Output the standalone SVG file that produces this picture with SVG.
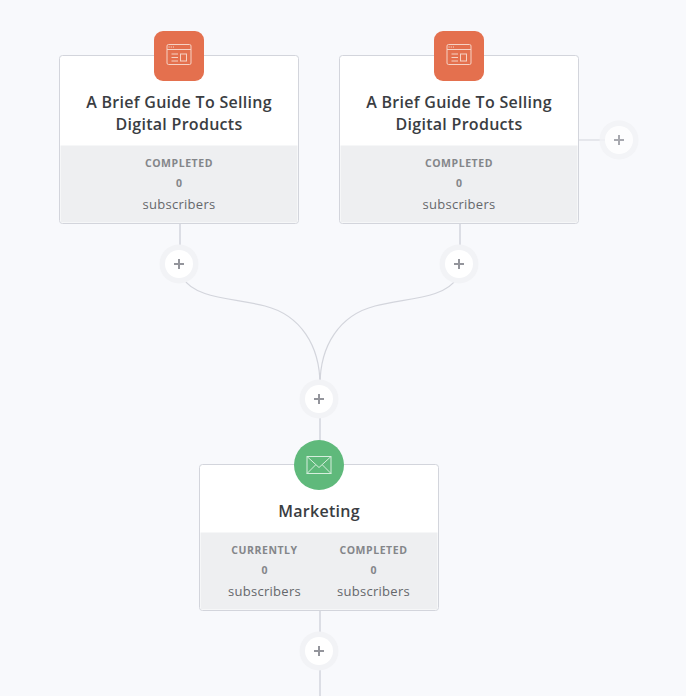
<svg xmlns="http://www.w3.org/2000/svg" width="686" height="696" viewBox="0 0 686 696">
<style>
text{font-family:"Open Sans","Noto Sans",sans-serif;text-anchor:middle}
.card{fill:#fff;stroke:#d3d5dc;stroke-width:1}
.foot{fill:#eeeff1}
.title{font-size:16px;font-weight:600;fill:#3a3d42;letter-spacing:.29px}
.lab{font-size:10.5px;font-weight:700;fill:#84868a;letter-spacing:.55px}
.num{font-size:10.5px;font-weight:700;fill:#84868a}
.sub{font-size:13px;fill:#65676b;letter-spacing:.28px}
.ring{fill:#f2f3f6}
.hole{fill:#fff}
.plus{stroke:#94959c;stroke-width:2;fill:none}
.wire{stroke:#dcdee5;stroke-width:2;fill:none}
.thin{stroke:#d3d5dc;stroke-width:1;fill:none}
.curve{stroke:#d3d5dc;stroke-width:1.2;fill:none}
.ico{stroke:#f6d2c4;stroke-width:1;fill:none}
.env{stroke:#d6eedd;stroke-width:1;fill:none}
</style>
<defs>
<g id="add"><circle class="ring" r="19.500"/><circle class="hole" r="14"/><path class="plus" d="M-5 0H5M0-5V5"/></g>
<g id="web"><rect x="-12" y="-11.500" width="24" height="20" rx="1.500" class="ico"/><path class="ico" d="M-12-6.500H12M-7.500-2H-1M-7.500 1.500H-1M-7.500 5H-1"/><rect x="1.500" y="-2" width="6" height="7" class="ico"/><path stroke="#f6d2c4" stroke-width="1.200" stroke-dasharray="1.200 1" d="M-10.500-9H-5"/></g>
<g id="foot"><path class="foot" d="M1 90H238V166a1 1 0 0 1-1 1H2a1 1 0 0 1-1-1Z"/></g>
</defs>
<rect width="686" height="696" fill="#f8f9fc"/>
<g id="connectors">
<path class="wire" d="M180 223V250M460 223V250M320 375V465M320 610V696"/>
<path class="thin" d="M579 140H605"/>
<path class="curve" d="M183 278C195 299 235 298 265 306C300 315 320 345 320 385"/>
<path class="curve" d="M457 278C445 299 405 298 375 306C340 315 320 345 320 385"/>
</g>
<g id="node-guide-1" transform="translate(59.500 55.500)">
<rect class="card" width="239" height="168" rx="3"/>
<use href="#foot"/>
<rect x="94.500" y="-24.500" width="50" height="50" rx="9" fill="#e4704e"/>
<use href="#web" x="119.500" y="0.500"/>
<text class="title" x="119.500" y="52.500">A Brief Guide To Selling</text>
<text class="title" x="119.500" y="74.500">Digital Products</text>
<text class="lab" x="119.500" y="111.500">COMPLETED</text>
<text class="num" x="119.500" y="131.500">0</text>
<text class="sub" x="119.500" y="153">subscribers</text>
</g>
<g id="node-guide-2" transform="translate(339.500 55.500)">
<rect class="card" width="239" height="168" rx="3"/>
<use href="#foot"/>
<rect x="94.500" y="-24.500" width="50" height="50" rx="9" fill="#e4704e"/>
<use href="#web" x="119.500" y="0.500"/>
<text class="title" x="119.500" y="52.500">A Brief Guide To Selling</text>
<text class="title" x="119.500" y="74.500">Digital Products</text>
<text class="lab" x="119.500" y="111.500">COMPLETED</text>
<text class="num" x="119.500" y="131.500">0</text>
<text class="sub" x="119.500" y="153">subscribers</text>
</g>
<g id="node-marketing" transform="translate(199.500 464.500)">
<rect class="card" width="239" height="146" rx="3"/>
<path class="foot" d="M1 68H238V144a1 1 0 0 1-1 1H2a1 1 0 0 1-1-1Z"/>
<circle cx="119.500" cy="0.500" r="25" fill="#5fb97b"/>
<rect class="env" x="107.500" y="-8" width="24" height="17"/>
<path class="env" d="M107.500-8L119.500 3L131.500-8M107.500 9L116 0.500M131.500 9L123 0.500"/>
<text class="title" x="119.500" y="52">Marketing</text>
<text class="lab" x="65" y="89.500">CURRENTLY</text>
<text class="num" x="65" y="109.500">0</text>
<text class="sub" x="65" y="131">subscribers</text>
<text class="lab" x="174" y="89.500">COMPLETED</text>
<text class="num" x="174" y="109.500">0</text>
<text class="sub" x="174" y="131">subscribers</text>
</g>
<g id="add-1"><use href="#add" x="179" y="264"/></g>
<g id="add-2"><use href="#add" x="459" y="264"/></g>
<g id="add-3"><use href="#add" x="619" y="140" opacity=".8"/></g>
<g id="add-4"><use href="#add" x="319" y="399"/></g>
<g id="add-5"><use href="#add" x="319" y="651"/></g>
</svg>
